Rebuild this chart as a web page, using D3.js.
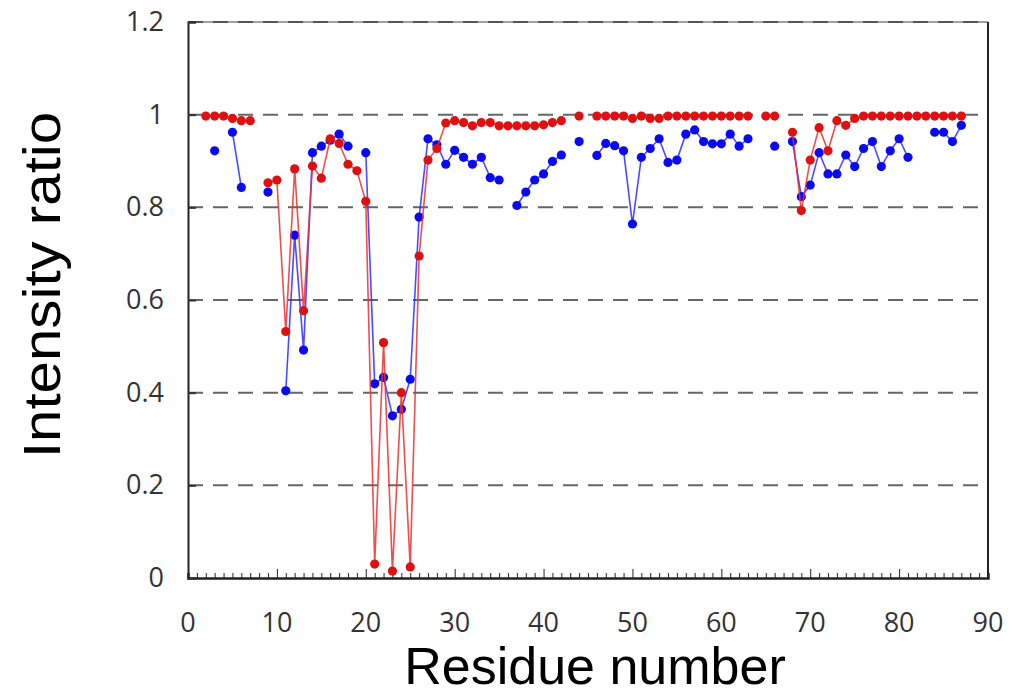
<!DOCTYPE html>
<html>
<head>
<meta charset="utf-8">
<script src="https://cdn.jsdelivr.net/npm/d3@7"></script>
<style>
  body { margin: 0; background: #fff; }
  svg { display: block; }
</style>
</head>
<body>
<div id="svg-container"></div>
<script>
// residue numbers 1..87, null where no peak was measured
const residues = d3.range(1, 88);

const redRatio = [
  null, 0.997, 0.997, 0.997, 0.992, 0.987, 0.987, null, 0.853, 0.859,
  0.532, 0.883, 0.577, 0.889, 0.863, 0.948, 0.938, 0.893, 0.879, 0.813,
  0.030, 0.508, 0.015, 0.400, 0.024, 0.695, 0.902, 0.927, 0.982, 0.987,
  0.983, 0.976, 0.983, 0.983, 0.976, 0.976, 0.976, 0.976, 0.976, 0.978,
  0.983, 0.987, null, 0.997, null, 0.997, 0.997, 0.997, 0.997, 0.992,
  0.997, 0.992, 0.992, 0.997, 0.997, 0.997, 0.997, 0.997, 0.997, 0.997,
  0.997, 0.997, 0.997, null, 0.997, 0.997, null, 0.962, 0.793, 0.902,
  0.972, 0.922, 0.987, 0.977, 0.992, 0.997, 0.997, 0.997, 0.997, 0.997,
  0.997, 0.997, 0.997, 0.997, 0.997, 0.997, 0.997
];

const blueRatio = [
  null, null, 0.922, null, 0.962, 0.843, null, null, 0.833, null,
  0.404, 0.740, 0.492, 0.918, 0.932, 0.945, 0.958, 0.932, null, 0.918,
  0.419, 0.433, 0.350, 0.364, 0.429, 0.779, 0.948, 0.935, 0.893, 0.923,
  0.908, 0.893, 0.908, 0.864, 0.859, null, 0.804, 0.833, 0.859, 0.872,
  0.899, 0.913, null, 0.942, null, 0.912, 0.938, 0.933, 0.922, 0.764,
  0.908, 0.927, 0.948, 0.897, 0.902, 0.958, 0.967, 0.942, 0.937, 0.937,
  0.958, 0.932, 0.948, null, null, 0.932, null, 0.942, 0.823, 0.848,
  0.918, 0.872, 0.872, 0.913, 0.888, 0.927, 0.942, 0.888, 0.922, 0.948,
  0.908, null, null, 0.962, 0.962, 0.942, 0.977
];

const xTicks = [0, 10, 20, 30, 40, 50, 60, 70, 80, 90];
const yTicks = [0, 0.2, 0.4, 0.6, 0.8, 1, 1.2];

const width = 1010,
  height = 695,
  plotLeft = 188,
  plotRight = 988,
  plotTop = 22,
  plotBottom = 578;

const x = d3.scaleLinear().domain([0, 90]).range([plotLeft, plotRight]);
const y = d3.scaleLinear().domain([0, 1.2]).range([plotBottom, plotTop]);

const svg = d3.select("#svg-container").append("svg")
  .attr("width", width)
  .attr("height", height);

// dashed grid lines
svg.selectAll(".grid")
  .data(yTicks.filter(d => d > 0))
  .enter().append("line")
  .attr("x1", plotLeft)
  .attr("x2", plotRight)
  .attr("y1", d => y(d))
  .attr("y2", d => y(d))
  .attr("stroke", "#666")
  .attr("stroke-width", 2)
  .attr("stroke-dasharray", "15 10");

// frame
svg.append("line")
  .attr("x1", plotLeft).attr("x2", plotRight)
  .attr("y1", plotTop).attr("y2", plotTop)
  .attr("stroke", "#444").attr("stroke-width", 1);
svg.append("line")
  .attr("x1", plotRight).attr("x2", plotRight)
  .attr("y1", plotTop).attr("y2", plotBottom)
  .attr("stroke", "#222").attr("stroke-width", 2);

// bottom axis: minor ticks every residue, pointing inward
const xAxis = d3.axisBottom(x)
  .tickValues(d3.range(0, 91))
  .tickSize(-5)
  .tickFormat("");
const gx = svg.append("g")
  .attr("transform", `translate(0,${plotBottom})`)
  .call(xAxis);
gx.selectAll(".tick line")
  .attr("stroke", "#222")
  .attr("y2", d => d % 10 === 0 ? -9 : -5);
gx.select(".domain").attr("stroke", "#222").attr("stroke-width", 2.5);

svg.append("g")
  .selectAll("text")
  .data(xTicks)
  .enter().append("text")
  .attr("x", d => x(d))
  .attr("y", 632)
  .attr("text-anchor", "middle")
  .attr("font-family", "'Open Sans', sans-serif")
  .attr("font-size", 27)
  .attr("fill", "#333")
  .text(d => d);

// left axis
const yAxis = d3.axisLeft(y)
  .tickValues(yTicks)
  .tickSize(-8)
  .tickPadding(24)
  .tickFormat(d => d);
const gy = svg.append("g")
  .attr("transform", `translate(${plotLeft},0)`)
  .call(yAxis);
gy.select(".domain").attr("stroke", "#222").attr("stroke-width", 2);
gy.selectAll(".tick line").attr("stroke", "#333").attr("stroke-width", 2);
gy.selectAll(".tick text")
  .attr("font-family", "'Open Sans', sans-serif")
  .attr("font-size", 27)
  .attr("fill", "#333");

// series
const series = [
  { values: blueRatio, line: "#2a2aff", dot: "#0a0af0" },
  { values: redRatio, line: "#e83030", dot: "#dd1111" }
];

series.forEach(s => {
  const pts = residues.map((r, i) => ({ r: r, v: s.values[i] }));
  const line = d3.line()
    .defined(d => d.v !== null)
    .x(d => x(d.r))
    .y(d => y(d.v));

  svg.append("path")
    .datum(pts)
    .attr("d", line)
    .attr("fill", "none")
    .attr("stroke", s.line)
    .attr("stroke-width", 1.6)
    .attr("stroke-opacity", 0.85);

  svg.append("g")
    .selectAll("circle")
    .data(pts.filter(d => d.v !== null))
    .enter().append("circle")
    .attr("cx", d => x(d.r))
    .attr("cy", d => y(d.v))
    .attr("r", 4.6)
    .attr("fill", s.dot);
});

// axis titles
svg.append("text")
  .attr("x", 595)
  .attr("y", 684)
  .attr("text-anchor", "middle")
  .attr("font-family", "'Liberation Sans', Arial, sans-serif")
  .attr("font-size", 52)
  .attr("fill", "#000")
  .text("Residue number");

// the source stretches this title a little along its length
svg.append("text")
  .attr("transform", "translate(60,285) rotate(-90) scale(1.12,1)")
  .attr("text-anchor", "middle")
  .attr("font-family", "'Liberation Sans', Arial, sans-serif")
  .attr("font-size", 52)
  .attr("fill", "#000")
  .text("Intensity ratio");
</script>
</body>
</html>
